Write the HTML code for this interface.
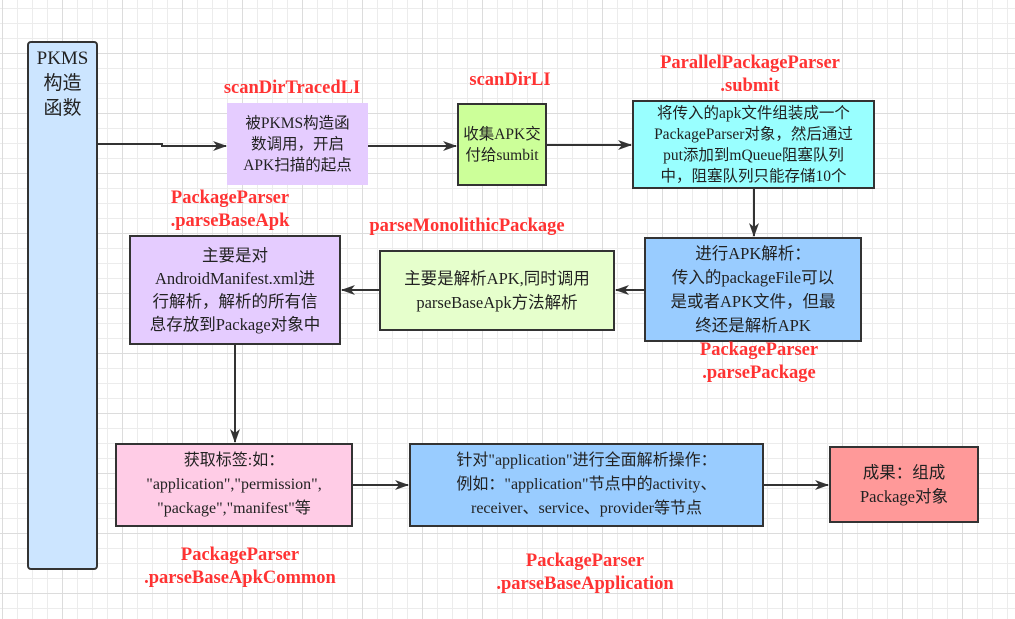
<!DOCTYPE html>
<html><head><meta charset="utf-8"><style>
body{margin:0;width:1015px;height:619px;overflow:hidden;background:#fff;position:relative;
font-family:"Liberation Serif","Noto Sans CJK SC",serif;}
.grid{position:absolute;left:0;top:0;width:1015px;height:619px;
background-image:
linear-gradient(to right,#dcdcdc 1px,transparent 1px),
linear-gradient(to bottom,#dcdcdc 1px,transparent 1px),
linear-gradient(to right,#ececec 1px,transparent 1px),
linear-gradient(to bottom,#ececec 1px,transparent 1px);
background-size:60px 60px,60px 60px,15px 15px,15px 15px;
background-position:2px 53px,2px 53px,2px 8px,2px 8px;}
.b{position:absolute;box-sizing:border-box;border:2px solid #333;display:flex;align-items:center;justify-content:center;text-align:center;font-size:15.5px;line-height:21px;color:#222;}
.l{position:absolute;color:#ff3333;font-weight:bold;font-size:18.5px;line-height:23px;text-align:center;white-space:nowrap;transform:translateX(-50%);}
svg{position:absolute;left:0;top:0;}
</style></head><body>
<div class="grid"></div>
<div class="b" style="left:27px;top:41px;width:71px;height:529px;background:#cce5ff;border-radius:4px;align-items:flex-start;font-size:19px;line-height:25px;padding-top:3px">PKMS<br>构造<br>函数</div>
<div class="b" style="left:227px;top:103px;width:141px;height:82px;background:#e5ccff;border:none">被PKMS构造函<br>数调用，开启<br>APK扫描的起点</div>
<div class="b" style="left:457px;top:103px;width:90px;height:83px;background:#ccff99">收集APK交<br>付给sumbit</div>
<div class="b" style="left:632px;top:100px;width:243px;height:89px;background:#99ffff">将传入的apk文件组装成一个<br>PackageParser对象，然后通过<br>put添加到mQueue阻塞队列<br>中，阻塞队列只能存储10个</div>
<div class="b" style="left:644px;top:237px;width:218px;height:105px;background:#99ccff;font-size:16.5px;line-height:24px">进行APK解析：<br>传入的packageFile可以<br>是或者APK文件，但最<br>终还是解析APK</div>
<div class="b" style="left:379px;top:250px;width:236px;height:81px;background:#e6ffcc;font-size:16.5px;line-height:24px">主要是解析APK,同时调用<br>parseBaseApk方法解析</div>
<div class="b" style="left:129px;top:235px;width:212px;height:110px;background:#e5ccff;font-size:16.5px;line-height:23px">主要是对<br>AndroidManifest.xml进<br>行解析，解析的所有信<br>息存放到Package对象中</div>
<div class="b" style="left:115px;top:443px;width:238px;height:84px;background:#ffcce6;font-size:16px;line-height:24px">获取标签:如：<br>"application","permission",<br>"package","manifest"等</div>
<div class="b" style="left:409px;top:443px;width:355px;height:84px;background:#99ccff;font-size:16px;line-height:24px">针对"application"进行全面解析操作：<br>例如："application"节点中的activity、<br>receiver、service、provider等节点</div>
<div class="b" style="left:829px;top:446px;width:150px;height:77px;background:#ff9999;font-size:16.5px;line-height:24px">成果：组成<br>Package对象</div>

<div class="l" style="left:292px;top:77px">scanDirTracedLI</div>
<div class="l" style="left:510px;top:69px">scanDirLI</div>
<div class="l" style="left:750px;top:52px">ParallelPackageParser<br>.submit</div>
<div class="l" style="left:759px;top:339px">PackageParser<br>.parsePackage</div>
<div class="l" style="left:467px;top:215px">parseMonolithicPackage</div>
<div class="l" style="left:230px;top:187px">PackageParser<br>.parseBaseApk</div>
<div class="l" style="left:240px;top:544px">PackageParser<br>.parseBaseApkCommon</div>
<div class="l" style="left:585px;top:550px">PackageParser<br>.parseBaseApplication</div>

<svg width="1015" height="619">
<defs><marker id="a" markerWidth="14" markerHeight="12" refX="13" refY="6" orient="auto" markerUnits="userSpaceOnUse"><path d="M0,1 L14,6 L0,11 L4,6 z" fill="#333"/></marker></defs>
<g stroke="#333" stroke-width="2" fill="none" marker-end="url(#a)">
<path d="M98,144 H162 V146 H226"/>
<path d="M368,146 H456"/>
<path d="M547,145 H631"/>
<path d="M754,189 V236"/>
<path d="M644,290 H616"/>
<path d="M379,290 H342"/>
<path d="M235,345 V442"/>
<path d="M353,485 H408"/>
<path d="M764,485 H828"/>
</g></svg>
</body></html>
